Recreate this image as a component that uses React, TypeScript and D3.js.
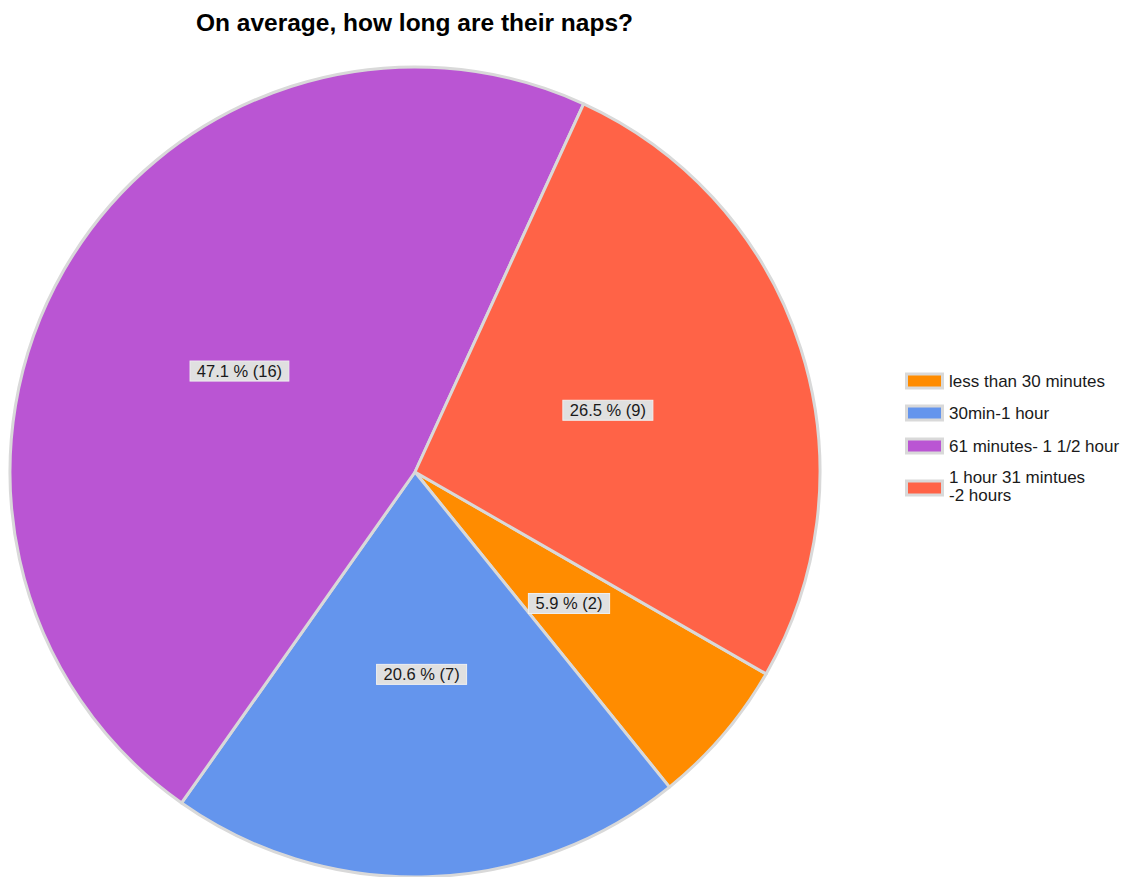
import React from "react";
import * as d3 from "d3";

const categories = [
  "less than 30 minutes",
  "30min-1 hour",
  "61 minutes- 1 1/2 hour",
  "1 hour 31 mintues\n-2 hours",
];
const counts = [2, 7, 16, 9];
const colors = ["#FF8C00", "#6495ED", "#BA55D3", "#FF6347"];
const title = "On average, how long are their naps?";

export default function App() {
  const W = 1127, H = 877;
  const cx = 415, cy = 472, R = 405;
  const total = d3.sum(counts);
  const start = (119.9 * Math.PI) / 180;
  const pie = d3.pie<number>().sort(null).value((d) => d).startAngle(start).endAngle(start + 2 * Math.PI);
  const arcs = pie(counts);
  const arc = d3.arc<d3.PieArcDatum<number>>().innerRadius(0).outerRadius(R);
  const font = "'Liberation Sans', Arial, sans-serif";

  const swatchY = [381, 413, 446, 488];
  const textY = [387, 419, 452, 483];

  return (
    <svg width={W} height={H} style={{ position: "absolute", left: 0, top: 0, background: "#fff" }} fontFamily={font}>
      <text x={414.5} y={31} textAnchor="middle" fontWeight="bold" fontSize={24.5} fill="#000">{title}</text>
      <g transform={`translate(${cx},${cy})`}>
        {arcs.map((a, i) => (
          <path key={i} d={arc(a) || ""} fill={colors[i]} stroke="#d9d9d9" strokeWidth={3} strokeLinejoin="round" />
        ))}
        {arcs.map((a, i) => {
          const [lx, ly] = arc.centroid(a);
          const label = `${d3.format(".1f")((counts[i] / total) * 100)} % (${counts[i]})`;
          const w = label.length * 8.8 + 2;
          return (
            <g key={"l" + i} transform={`translate(${lx},${ly})`}>
              <rect x={-w / 2} y={-10} width={w} height={20} fill="#e0e0e0" stroke="#efefef" strokeWidth={1} />
              <text x={0} y={6} textAnchor="middle" fontSize={16.5} fill="#1a1a1a">{label}</text>
            </g>
          );
        })}
      </g>
      <g>
        {categories.map((c, i) => {
          const lines = c.split("\n");
          return (
            <g key={"lg" + i}>
              <rect x={906.5} y={swatchY[i] - 7} width={36} height={14} fill={colors[i]} stroke="#d9d9d9" strokeWidth={3} />
              {lines.map((ln, j) => (
                <text key={j} x={949} y={textY[i] + j * 18} fontSize={17} fill="#1a1a1a">{ln}</text>
              ))}
            </g>
          );
        })}
      </g>
    </svg>
  );
}
